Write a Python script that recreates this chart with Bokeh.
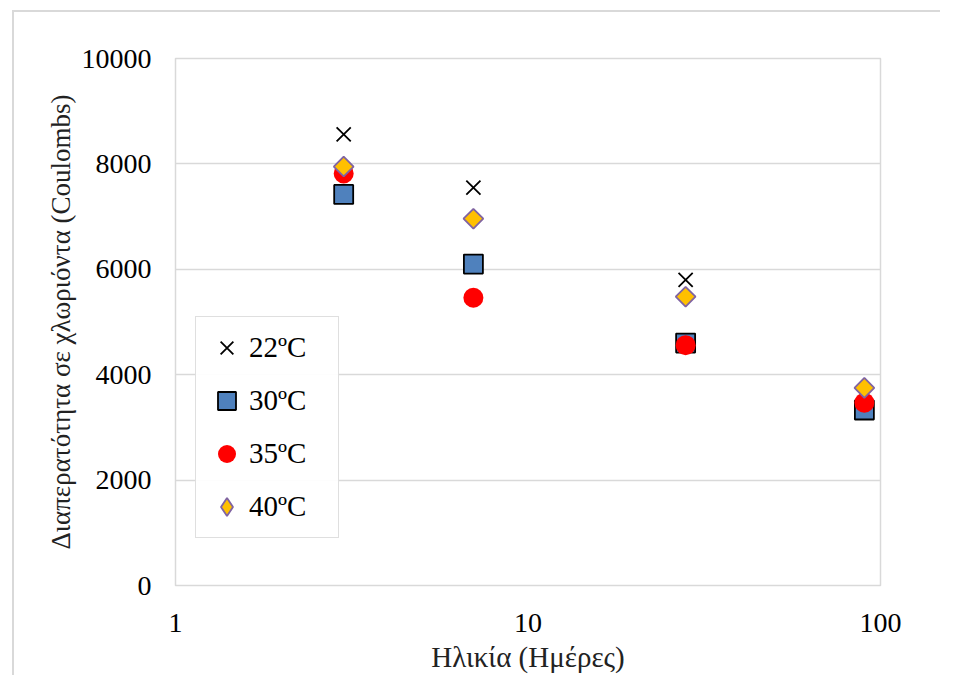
import math
from bokeh.plotting import figure
from bokeh.models import FixedTicker, Range1d, Legend, LegendItem
from bokeh.embed import file_html
from bokeh.resources import INLINE

ages = [3, 7, 28, 90]
t22 = [8560, 7550, 5800, 3300]
t30 = [7420, 6100, 4600, 3330]
t35 = [7820, 5460, 4560, 3470]
t40 = [7950, 6960, 5480, 3750]
y_ticks = [0, 2000, 4000, 6000, 8000, 10000]
x_ticks = [1, 10, 100]
x_label = "Ηλικία (Ημέρες)"
y_label = "Διαπερατότητα σε χλωριόντα (Coulombs)"
labels = ["22ºC", "30ºC", "35ºC", "40ºC"]

FONT = "Liberation Serif"

p = figure(width=940, height=675, x_axis_type="log",
           x_range=Range1d(1, 100), y_range=Range1d(0, 10000),
           output_backend="svg", toolbar_location=None,
           min_border_left=175, min_border_right=60,
           min_border_top=58, min_border_bottom=60)
# chart-area border of the original (light grey, left and top edges visible)
p.styles = {"background": "linear-gradient(#d9d9d9, #d9d9d9) 12px 10px / 2px 1000px no-repeat, "
                          "linear-gradient(#d9d9d9, #d9d9d9) 12px 10px / 2000px 2px no-repeat, white"}
p.border_fill_alpha = 0
p.outline_line_color = "#d9d9d9"
p.outline_line_width = 1.5
p.background_fill_color = "white"
p.xgrid.visible = False
p.ygrid.grid_line_color = "#d9d9d9"
p.ygrid.grid_line_width = 1.5

p.yaxis.ticker = FixedTicker(ticks=y_ticks)
p.xaxis.ticker = FixedTicker(ticks=x_ticks)
p.xaxis.major_label_overrides = {t: str(t) for t in x_ticks}
for ax in (p.xaxis, p.yaxis):
    ax.axis_line_color = None
    ax.major_tick_line_color = None
    ax.minor_tick_line_color = None
    ax.major_label_text_font = FONT
    ax.major_label_text_font_size = "28px"
    ax.major_label_text_color = "black"
    ax.axis_label_text_font = FONT
    ax.axis_label_text_font_style = "normal"
    ax.axis_label_text_color = "#222222"
p.xaxis.axis_label_text_font_size = "29px"
p.yaxis.axis_label_text_font_size = "27px"
p.xaxis.major_label_standoff = 22
p.yaxis.major_label_standoff = 18
p.xaxis.axis_label = x_label
p.yaxis.axis_label = y_label
p.xaxis.axis_label_standoff = 6
p.yaxis.axis_label_standoff = 3

r22 = p.scatter(ages, t22, marker="x", size=20, line_color="black", line_width=1.8)
r30 = p.scatter(ages, t30, marker="square", size=19, fill_color="#4F81BD",
                line_color="black", line_width=1.8)
r35 = p.scatter(ages, t35, marker="circle", size=20, fill_color="#FF0000",
                line_color=None)
# legend key for 40ºC (legend glyphs ignore angle); hidden under the rotated squares
r40_key = p.scatter(ages, t40, marker="diamond", size=18,
                    fill_color="#FFC000", line_color="#8064A2", line_width=1.8)
r40 = p.scatter(ages, t40, marker="square", angle=math.pi / 4, size=14,
                fill_color="#FFC000", line_color="#8064A2", line_width=1.8)

legend = Legend(items=[LegendItem(label=l, renderers=[r]) for l, r in
                       zip(labels, [r22, r30, r35, r40_key])],
                location=(20, 47))
legend.label_text_font = FONT
legend.label_text_font_size = "29px"
legend.label_text_color = "black"
legend.border_line_color = "#bfbfbf"
legend.border_line_width = 1
legend.glyph_width = 45
legend.glyph_height = 45
legend.label_standoff = 0
legend.label_width = 81
legend.spacing = 8
legend.padding = 8
legend.margin = 0
legend.background_fill_color = "white"
p.add_layout(legend, "center")

open("out.html", "w").write(file_html(p, INLINE))
